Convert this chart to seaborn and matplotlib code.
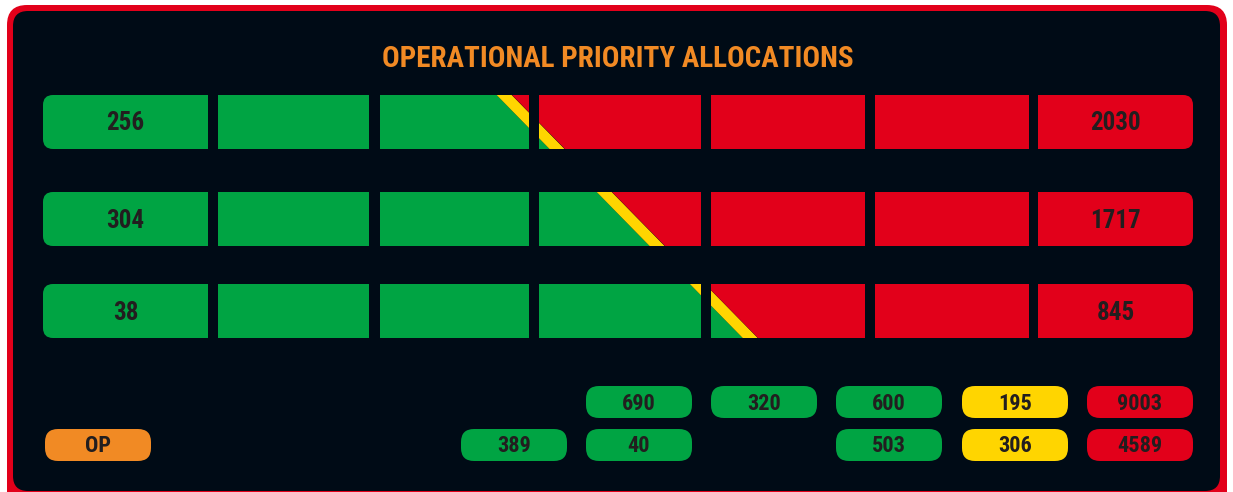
import seaborn as sns
import matplotlib.pyplot as plt
from matplotlib import font_manager
from matplotlib.patches import FancyBboxPatch, PathPatch, Polygon
from matplotlib.path import Path

# ---- data ----
titulo = "OPERATIONAL PRIORITY ALLOCATIONS"
valores_esq = [256, 304, 38]          # numero no primeiro bloco (verde)
valores_dir = [2030, 1717, 845]       # numero no ultimo bloco (vermelho)
divisao_pct = [42.4, 51.1, 59.2]      # onde o verde vira vermelho (% da barra)
n_blocos = 7

resumo_cima = [None, 690, 320, 600, 195, 9003]
resumo_baixo = [389, 40, None, 503, 306, 4589]
resumo_cores = ['verde', 'verde', 'verde', 'verde', 'amarelo', 'vermelho']
rotulo_op = "OP"

# ---- cores ----
cores = dict(zip(['verde', 'vermelho', 'amarelo', 'laranja', 'fundo'],
                 sns.color_palette(['#00a443', '#e2001a', '#ffd500', '#f18a24', '#000b16'])))
cor_texto = '#221e1f'

# ---- layout (em pixels) ----
blocos_x = [(43, 208), (218, 369), (380, 529), (539, 701), (711, 865), (875, 1029), (1038, 1193)]
linhas_topo = [95, 192, 284]
altura = 54
faixa = 15          # largura da faixa amarela
inclinacao = 0.98   # dx/dy da diagonal
colunas_x = [461, 586, 711, 836, 962, 1087]
pilula_w, pilula_h = 106, 32
pilula_y = [386, 429]

sns.set_theme(style='dark')
# fonte condensada, se tiver
instaladas = {f.name for f in font_manager.fontManager.ttflist}
fonte = next((f for f in ['Roboto Condensed', 'Archivo Narrow', 'Barlow Condensed',
                          'PT Sans Narrow', 'Liberation Sans Narrow'] if f in instaladas), 'DejaVu Sans')
plt.rcParams['font.family'] = [fonte, 'DejaVu Sans']

fig = plt.figure(figsize=(12.33, 4.92), dpi=100, facecolor='white')
ax = fig.add_axes([0, 0, 1, 1])
ax.set_xlim(0, 1233)
ax.set_ylim(492, 0)
ax.axis('off')

# moldura
ax.add_patch(FancyBboxPatch((7, 5), 1220, 510, boxstyle='round,pad=0,rounding_size=20',
                            fc=cores['vermelho'], ec='none', clip_on=False))
ax.add_patch(FancyBboxPatch((13, 11), 1207, 480, boxstyle='round,pad=0,rounding_size=15',
                            fc=cores['fundo'], ec='none', clip_on=False))

ax.text(618, 59, titulo, color=cores['laranja'], fontsize=21, fontweight='bold',
        ha='center', va='center')


def bloco_path(x0, x1, y0, y1, rl, rr):
    v = [(x0 + rl, y0), (x1 - rr, y0), (x1, y0), (x1, y0 + rr), (x1, y1 - rr), (x1, y1),
         (x1 - rr, y1), (x0 + rl, y1), (x0, y1), (x0, y1 - rl), (x0, y0 + rl), (x0, y0),
         (x0 + rl, y0), (x0 + rl, y0)]
    c = [Path.MOVETO, Path.LINETO, Path.CURVE3, Path.CURVE3, Path.LINETO, Path.CURVE3,
         Path.CURVE3, Path.LINETO, Path.CURVE3, Path.CURVE3, Path.LINETO, Path.CURVE3,
         Path.CURVE3, Path.CLOSEPOLY]
    return Path(v, c)


x_ini, x_fim = blocos_x[0][0], blocos_x[-1][1]
for i, topo in enumerate(linhas_topo):
    base = topo + altura
    paths = []
    for j, (a, b) in enumerate(blocos_x):
        rl = 10 if j == 0 else 0
        rr = 10 if j == n_blocos - 1 else 0
        paths.append(bloco_path(a, b, topo, base, rl, rr))
    clip = PathPatch(Path.make_compound_path(*paths), transform=ax.transData)

    xm = x_ini + divisao_pct[i] / 100 * (x_fim - x_ini)
    ymid = topo + altura / 2
    t, bt = topo - 2, base + 2

    def xl(y, off):
        return xm + (y - ymid) * inclinacao + off

    polys = [
        ([(x_ini - 5, t), (xl(t, -faixa / 2), t), (xl(bt, -faixa / 2), bt), (x_ini - 5, bt)], 'verde'),
        ([(xl(t, -faixa / 2), t), (xl(t, faixa / 2), t), (xl(bt, faixa / 2), bt), (xl(bt, -faixa / 2), bt)], 'amarelo'),
        ([(xl(t, faixa / 2), t), (x_fim + 5, t), (x_fim + 5, bt), (xl(bt, faixa / 2), bt)], 'vermelho'),
    ]
    for pts, cor in polys:
        p = Polygon(pts, closed=True, fc=cores[cor], ec='none')
        ax.add_patch(p)
        p.set_clip_path(clip)

    ax.text(sum(blocos_x[0]) / 2, ymid + 1.5, str(valores_esq[i]), color=cor_texto, fontsize=18,
            fontweight='bold', ha='center', va='center')
    ax.text(sum(blocos_x[-1]) / 2, ymid + 1.5, str(valores_dir[i]), color=cor_texto, fontsize=18,
            fontweight='bold', ha='center', va='center')


def pilula(x, y, texto, cor):
    ax.add_patch(FancyBboxPatch((x, y), pilula_w, pilula_h, boxstyle='round,pad=0,rounding_size=13',
                                fc=cor, ec='none'))
    ax.text(x + pilula_w / 2, y + pilula_h / 2 + 1.5, texto, color=cor_texto, fontsize=16,
            fontweight='bold', ha='center', va='center')


for k, x in enumerate(colunas_x):
    for y, serie in zip(pilula_y, [resumo_cima, resumo_baixo]):
        if serie[k] is not None:
            pilula(x, y, str(serie[k]), cores[resumo_cores[k]])

pilula(45, pilula_y[1], rotulo_op, cores['laranja'])

fig.savefig('out.png', dpi=100, facecolor='white')
